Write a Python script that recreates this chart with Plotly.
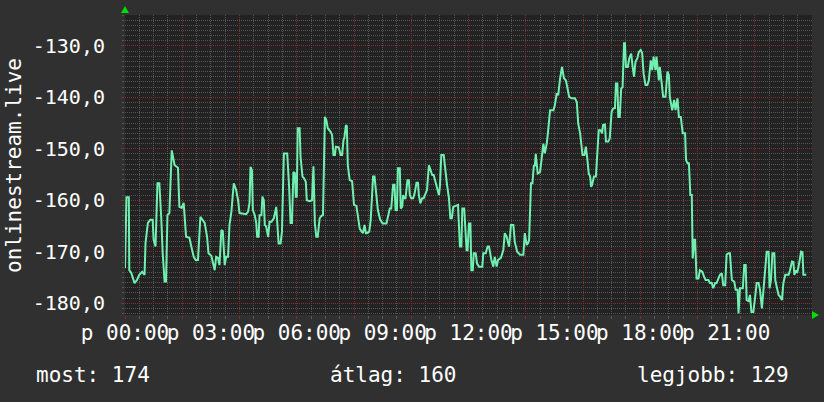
import datetime as dt
import plotly.graph_objects as go

# ---- data (minutes since midnight, value) ----
minutes = [
    0, 3, 8, 9, 13, 16, 20, 25, 30, 36, 41, 43, 48, 53, 58, 60, 64, 68, 72, 76,
    79, 83, 86, 89, 93, 98, 104, 111, 114, 119, 123, 128, 135, 139, 144, 148, 153, 158, 167, 172,
    175, 181, 184, 188, 191, 195, 198, 202, 205, 209, 212, 216, 219, 223, 228,
    233, 237, 240, 254, 258, 261, 263, 266, 268, 272, 275, 277, 280, 282, 286, 288, 291, 293, 296, 300,
    303, 307, 312, 317, 319, 322, 326, 329, 333, 340, 344, 347, 350, 353, 356, 358, 360, 362, 366, 368,
    372, 375, 379, 381, 387, 392, 395, 398, 401, 404, 408, 412, 415, 419, 422, 425, 431, 434, 437, 440,
    442, 448, 452, 455, 458, 460, 463, 465, 467, 471, 476,
    480, 485, 488, 492, 496, 499, 502, 505, 507, 512, 515, 517, 520, 523, 527, 530, 535, 540, 548, 551,
    555, 558, 562, 565, 567, 570, 572, 576, 578, 581, 583, 585, 588, 592, 595, 597, 600, 604, 607, 611,
    614, 616, 619, 623, 626, 630, 633, 637, 640, 644, 647, 651, 654, 658, 660, 663, 668, 672, 675, 679,
    682, 685, 688, 693, 698, 702, 705, 707, 711,
    716, 718, 721, 724, 726, 729, 731, 735, 738, 742, 749, 751, 756, 760, 763, 765, 768, 772, 775, 779,
    782, 788, 793, 796, 800, 805, 809, 814, 817, 822, 828, 835, 838, 842, 845, 847, 851, 854, 857, 859,
    861, 865, 870, 873, 877, 880, 884, 887, 891, 898, 901, 905, 908, 912, 916, 920, 924, 927, 931, 936,
    943, 947, 950, 954,
    956, 959, 963, 966, 969, 972, 975, 977, 979, 983, 987, 990, 993, 997, 1000, 1002, 1006, 1008, 1013, 1016,
    1020, 1023, 1027, 1029, 1032, 1034, 1037, 1040, 1043, 1046, 1048, 1050, 1054, 1057, 1061, 1064, 1067, 1070, 1074, 1077,
    1081, 1084, 1087, 1091, 1095, 1098, 1102, 1105, 1108, 1112, 1114, 1119, 1121, 1125, 1128, 1133, 1137, 1140, 1142, 1147,
    1151, 1154, 1158, 1161, 1165, 1169, 1174, 1176, 1179, 1182,
    1185, 1188, 1190, 1193, 1195, 1198, 1202, 1205, 1210, 1214, 1217, 1223, 1226, 1230, 1233, 1237, 1240, 1244, 1247, 1251,
    1254, 1258, 1261, 1265, 1268, 1272, 1277, 1280, 1284, 1286, 1289, 1295, 1298, 1301, 1303, 1307, 1310, 1313, 1317, 1321,
    1324, 1328, 1331, 1335, 1338, 1342, 1345, 1349, 1351, 1354, 1357, 1361, 1363, 1366, 1370, 1373, 1377, 1380, 1384, 1387,
    1391, 1394, 1398, 1401, 1403, 1407, 1409, 1413, 1417, 1420, 1422, 1428,
]

values = [
    -173.2, -159.4, -159.4, -173.6, -174.1, -174.9, -176.1, -175.5, -174.5, -173.9, -174.5, -168.3, -164.4, -163.8, -163.8, -167.7, -169.0, -156.7, -156.7, -163.5,
    -170.3, -175.8, -175.8, -162.9, -162.5, -150.3, -153.2, -153.7, -161.3, -161.5, -160.5, -167.1, -167.3, -169.0, -171.0, -171.6, -171.6, -163.2, -164.4, -167.1,
    -170.3, -170.8, -172.2, -173.6, -171.0, -171.2, -172.6, -165.8, -166.0, -172.6, -171.0, -171.0, -164.8, -162.2, -156.7,
    -158.0, -160.0, -162.5, -162.7, -162.2, -160.5, -153.5, -154.1, -161.9, -162.9, -164.4, -167.1, -167.1, -162.9, -162.9, -159.3, -160.0, -164.8, -165.1, -167.1,
    -164.2, -164.2, -163.5, -161.3, -164.4, -168.4, -168.4, -166.1, -150.9, -150.9, -157.4, -164.4, -164.4, -154.5, -154.7, -159.3, -159.3, -146.0, -146.0, -151.6,
    -155.4, -155.7, -156.4, -160.0, -160.2, -160.0, -153.4, -164.5, -167.1, -167.1, -163.5, -163.0, -162.9, -143.8, -144.4, -146.0, -146.7, -147.3, -151.2, -151.2,
    -149.6, -149.7, -151.2, -151.2, -148.3, -147.7, -145.4, -145.6, -153.2, -156.1, -156.3,
    -160.9, -161.1, -163.2, -165.5, -166.1, -166.4, -164.8, -166.4, -166.4, -166.1, -163.8, -159.3, -155.4, -155.4, -159.0, -161.9, -163.8, -164.5, -164.5, -163.2,
    -161.6, -161.6, -157.0, -157.0, -161.9, -161.9, -153.8, -153.8, -161.6, -161.3, -159.0, -159.6, -159.6, -156.1, -156.1, -159.0, -159.6, -159.6, -158.7, -156.6,
    -156.6, -159.0, -160.6, -159.6, -159.6, -158.7, -158.0, -153.2, -154.1, -155.1, -155.1, -156.7, -157.7, -159.0, -157.4, -151.2, -151.2, -155.4, -157.0, -159.6,
    -163.5, -163.5, -161.3, -161.1, -160.9, -169.0, -169.0, -161.6, -161.6,
    -169.7, -169.7, -164.5, -164.5, -173.6, -173.6, -170.3, -170.3, -172.3, -172.9, -172.9, -170.3, -170.3, -169.0, -169.0, -170.3, -171.6, -172.9, -171.0, -172.9,
    -171.6, -171.2, -169.7, -166.4, -167.1, -169.0, -164.8, -164.8, -168.1, -170.0, -170.6, -170.6, -166.4, -168.7, -168.3, -167.7, -156.7, -156.7, -153.2, -153.4,
    -151.0, -154.8, -154.5, -152.2, -149.0, -150.9, -149.0, -146.4, -142.5, -142.5, -141.5, -139.2, -139.6, -136.3, -134.1, -136.3, -136.7, -138.0, -139.9, -140.2,
    -140.2, -140.9, -145.1, -147.0,
    -149.0, -151.2, -151.2, -149.6, -151.9, -154.8, -155.4, -157.4, -157.0, -155.4, -155.4, -150.3, -146.4, -146.4, -147.0, -145.4, -145.3, -148.6, -148.6, -148.0,
    -142.8, -142.2, -142.1, -137.3, -137.3, -143.8, -143.8, -138.3, -138.0, -129.5, -129.5, -134.1, -134.1, -132.4, -131.5, -134.1, -136.0, -133.1, -132.4, -131.2,
    -130.8, -131.4, -135.4, -137.6, -137.6, -136.7, -132.8, -134.7, -132.1, -134.7, -132.1, -136.7, -134.1, -137.3, -139.9, -139.9, -135.0, -135.7, -139.9, -142.5,
    -140.5, -142.5, -140.2, -143.8, -143.8, -147.0, -147.0, -152.2, -152.8, -152.8,
    -159.0, -159.0, -171.3, -167.7, -167.7, -175.2, -175.2, -173.6, -173.9, -174.9, -175.5, -175.5, -176.1, -176.1, -177.1, -176.1, -176.1, -175.2, -174.5, -174.2,
    -176.5, -176.5, -170.6, -170.3, -170.3, -175.5, -175.8, -177.4, -177.4, -182.0, -177.1, -177.1, -172.6, -172.6, -179.4, -179.6, -178.4, -181.7, -181.7, -178.7,
    -176.1, -176.1, -177.4, -181.0, -177.4, -172.3, -170.0, -170.0, -177.1, -175.5, -170.3, -170.3, -175.5, -176.8, -178.4, -178.7, -179.4, -176.1, -174.5, -174.5,
    -174.5, -173.6, -171.9, -172.0, -174.5, -173.6, -174.1, -172.3, -170.0, -170.1, -174.5, -174.5,
]

x_tick_hours = [0, 3, 6, 9, 12, 15, 18, 21]
x_tick_labels = ["p 00:00", "p 03:00", "p 06:00", "p 09:00",
                 "p 12:00", "p 15:00", "p 18:00", "p 21:00"]
y_tick_values = [-130, -140, -150, -160, -170, -180]
y_tick_labels = ["-130,0", "-140,0", "-150,0", "-160,0", "-170,0", "-180,0"]
y_range = [-182.3, -124.0]
legend_texts = ["most: 174", "átlag: 160", "legjobb: 129"]
axis_title = "onlinestream.live"

# ---- build ----
base = dt.datetime(2024, 1, 5)
times = [base + dt.timedelta(minutes=m) for m in minutes]
x_range = [base, base + dt.timedelta(hours=24)]
x_tick_times = [base + dt.timedelta(hours=h) for h in x_tick_hours]

FONT = "DejaVu Sans Mono"
WHITE = "#ffffff"
MAJOR = "rgba(140,45,45,0.9)"
MINOR = "rgba(105,105,105,0.7)"
LINE = "#70f0b0"
PAPER = "#303030"

fig = go.Figure()
fig.add_trace(go.Scatter(x=times, y=values, mode="lines",
                         line=dict(color=LINE, width=2), hoverinfo="skip",
                         showlegend=False))
# invisible copy on the label axis so that the overlay axis is drawn
fig.add_trace(go.Scatter(x=times, y=values, mode="lines", xaxis="x2",
                         line=dict(color="rgba(0,0,0,0)", width=0), opacity=0,
                         hoverinfo="skip", showlegend=False))

fig.update_layout(
    width=824, height=402,
    margin=dict(l=125, r=12, t=15, b=87, autoexpand=False),
    paper_bgcolor=PAPER,
    plot_bgcolor="#222222",
    font=dict(family=FONT, color=WHITE, size=21),
    xaxis=dict(
        type="date", range=x_range, automargin=False,
        tickmode="linear", tick0=base, dtick=2 * 3600 * 1000,
        showticklabels=False,
        showgrid=True, gridcolor=MAJOR, griddash="1px,1px", gridwidth=1,
        ticks="outside", ticklen=3, tickcolor=MAJOR, tickwidth=1,
        minor=dict(tickmode="linear", tick0=base, dtick=30 * 60 * 1000,
                   showgrid=True, gridcolor=MINOR, griddash="1px,1px", gridwidth=1,
                   ticks="outside", ticklen=3, tickcolor=MINOR),
        zeroline=False, showline=False, fixedrange=True,
    ),
    xaxis2=dict(
        type="date", range=x_range, overlaying="x", anchor="y", side="bottom",
        automargin=False, tickangle=0,
        tickmode="array", tickvals=x_tick_times, ticktext=x_tick_labels,
        showgrid=False, ticks="", zeroline=False, showline=False,
        tickfont=dict(family=FONT, size=21, color=WHITE),
        ticklabelstandoff=3, fixedrange=True,
    ),
    yaxis=dict(
        range=y_range, automargin=False,
        tickmode="array", tickvals=y_tick_values, ticktext=y_tick_labels,
        showgrid=True, gridcolor=MAJOR, griddash="1px,1px", gridwidth=1,
        ticks="outside", ticklen=3, tickcolor=MAJOR,
        minor=dict(tickmode="linear", tick0=0, dtick=1,
                   showgrid=True, gridcolor=MINOR, griddash="1px,1px", gridwidth=1,
                   ticks="outside", ticklen=2, tickcolor=MINOR),
        tickfont=dict(family=FONT, size=20, color=WHITE),
        ticklabelstandoff=12,
        zeroline=False, showline=False, fixedrange=True,
    ),
    shapes=[
        dict(type="path", xref="paper", yref="paper", xsizemode="pixel", ysizemode="pixel",
             xanchor=0, yanchor=1, path="M -4,2 L 4,2 L 0,9 Z",
             fillcolor="#00dd00", line=dict(width=0), layer="above"),
        dict(type="path", xref="paper", yref="paper", xsizemode="pixel", ysizemode="pixel",
             xanchor=1, yanchor=0, path="M 0,-4 L 0,4 L 7,0 Z",
             fillcolor="#00dd00", line=dict(width=0), layer="above"),
    ],
    annotations=[
        dict(text=axis_title, xref="paper", yref="paper", x=-0.1616, y=0.5,
             textangle=-90, xanchor="center", yanchor="middle", showarrow=False,
             font=dict(family=FONT, size=21, color=WHITE)),
        dict(text=legend_texts[0], xref="paper", yref="paper", x=-0.1325, y=-0.2,
             xanchor="left", yanchor="middle", showarrow=False,
             font=dict(family=FONT, size=21, color=WHITE)),
        dict(text=legend_texts[1], xref="paper", yref="paper", x=0.2955, y=-0.2,
             xanchor="left", yanchor="middle", showarrow=False,
             font=dict(family=FONT, size=21, color=WHITE)),
        dict(text=legend_texts[2], xref="paper", yref="paper", x=0.9694, y=-0.2,
             xanchor="right", yanchor="middle", showarrow=False,
             font=dict(family=FONT, size=21, color=WHITE)),
    ],
)

fig.write_html(
    "out.html",
    config={"displayModeBar": False, "staticPlot": True},
    post_script="document.body.style.margin='0';document.body.style.background='%s';" % PAPER,
)
